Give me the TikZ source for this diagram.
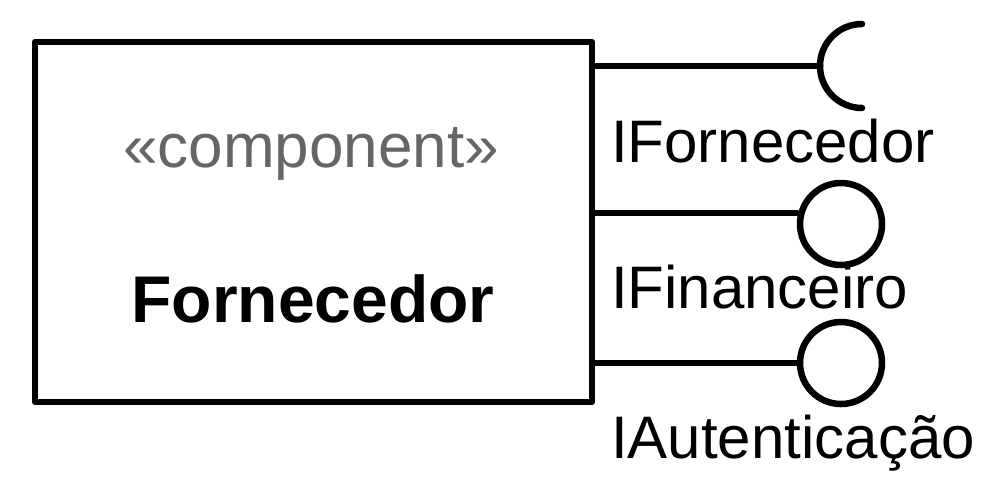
\documentclass[tikz,border=0pt]{standalone}
\usepackage{fontspec}
\setmainfont{Liberation Sans}
\definecolor{stereo}{HTML}{666666}
\begin{document}
\begin{tikzpicture}[x=1pt,y=1pt,
  umlline/.style={line width=6.5pt,line join=round,line cap=round},
  lbl/.style={inner sep=0pt,anchor=base west,font=\fontsize{60}{62}\selectfont},
  ball/.style={circle,draw,line width=6.5pt,minimum size=82pt,inner sep=0pt}]
\useasboundingbox (0,0) rectangle (992,-496);
\node[draw,umlline,minimum width=557pt,minimum height=360pt,inner sep=0pt] (comp) at (313.5,-222) {};
\node[inner sep=0pt,anchor=base,text=stereo,font=\fontsize{62}{64}\selectfont] (st) at (311,-167) {«component»};
\node[inner sep=0pt,anchor=base,font=\fontsize{66}{68}\selectfont\bfseries] (nm) at (313,-322) {Fornecedor};
% socket (required interface)
\coordinate (p1) at (592,-66);
\coordinate (sk) at (820,-66);
\draw[umlline] (p1) -- (sk);
\draw[umlline] (862,-24) arc[start angle=90,end angle=270,radius=42];
\node[lbl] (l1) at (611,-162) {IFornecedor};
% provided interfaces
\node[ball] (b1) at (841,-224) {};
\coordinate (p2) at (592,-213);
\draw[umlline] (p2) -- (p2 -| b1.west);
\node[lbl] (l2) at (611,-308) {IFinanceiro};
\node[ball] (b2) at (841,-363) {};
\coordinate (p3) at (592,-363);
\draw[umlline] (p3) -- (b2.west);
\node[lbl] (l3) at (611,-458) {IAutenticação};
\end{tikzpicture}
\end{document}
